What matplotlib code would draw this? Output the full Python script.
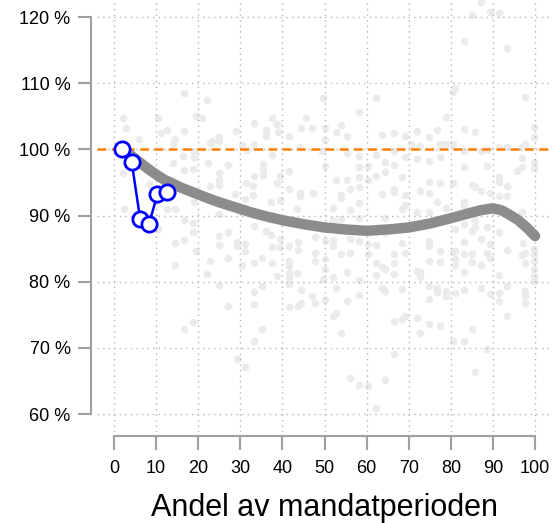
import matplotlib
matplotlib.use("Agg")
import matplotlib.pyplot as plt
from matplotlib import font_manager

# background points (share of period, result in %)
bg_x = [16.6, 22.0, 19.4, 20.8, 2.1, 10.4, 2.8, 12.5, 11.1, 16.7, 5.9, 14.5, 22.7, 13.9, 19.0, 16.5, 18.9, 13.9, 16.7, 18.8, 22.4, 13.7, 8.2, 2.2, 14.5, 12.5, 19.1, 2.4,
        49.7, 37.4, 33.3, 38.6, 44.3, 45.7, 47.0, 36.0, 29.0, 36.1, 41.6, 38.9, 25.0, 25.0, 23.3, 30.5, 33.3, 44.2, 31.5, 37.4, 49.3, 27.0, 35.3, 35.3, 41.6, 24.9, 33.2, 35.3, 39.4, 25.0, 25.0, 31.3, 38.6, 33.1, 22.8, 41.6, 44.2, 44.2, 33.1, 28.7, 47.3, 31.1, 39.4, 37.3, 43.5, 25.0,
        62.3, 58.2, 54.0, 52.7, 50.1, 55.3, 63.7, 66.4, 69.1, 76.8, 72.0, 74.8, 70.5, 72.7, 50.1, 55.3, 62.3, 58.2, 66.5, 69.1, 72.0, 74.8, 77.4, 50.1, 64.4, 66.5, 58.2, 60.2, 52.7, 55.3, 58.2, 60.3, 62.3, 64.4, 68.5, 74.8, 77.4, 56.1, 58.2, 66.4, 66.4, 63.7, 69.1, 72.7, 74.8, 54.0, 54.0, 58.2, 76.8, 51.9, 56.1, 69.1, 68.5, 72.0, 74.8,
        87.2, 85.1, 89.3, 91.4, 83.1, 93.4, 81.0, 80.4, 97.6, 78.9, 83.1, 85.8, 99.8, 99.8, 78.9, 80.4, 97.6, 96.8, 93.4, 91.4, 88.5, 87.2, 83.0, 77.4, 96.8, 96.8, 95.6, 99.8, 99.8, 83.1, 88.6, 91.4, 91.4, 93.4, 80.4, 85.1, 85.8, 87.2, 89.3, 91.4, 93.4, 83.1, 83.1, 78.9, 96.8,
        16.6, 18.7, 18.7, 14.5, 16.6, 19.4, 22.8, 14.5, 22.0, 18.7, 16.6, 10.4,
        33.2, 27.0, 25.0, 36.0, 37.3, 29.1, 25.0, 29.1, 31.1, 31.1, 39.5, 39.5, 37.4, 41.6, 43.6, 43.6, 27.0, 35.2, 37.4, 33.2, 30.5, 41.6, 41.6, 41.6, 41.6, 43.5, 38.8, 47.7, 47.7, 47.7, 49.7, 25.0, 33.2, 35.2, 41.6, 44.3, 47.0, 47.7, 41.6, 43.6, 44.3, 27.0, 33.2, 35.2, 33.2, 29.1, 31.1,
        50.1, 51.9, 51.9, 54.0, 56.1, 56.1, 58.2, 60.3, 60.3, 62.3, 64.4, 66.4, 66.4, 68.5, 69.1, 74.8, 74.8, 74.8, 77.4, 77.4, 50.1, 50.1, 51.9, 55.3, 58.2, 62.3, 63.7, 64.4, 62.3, 66.4, 72.0, 72.7, 72.7, 52.7, 58.1, 55.3, 63.7, 64.4, 68.5, 74.8, 74.8, 76.8, 76.8, 50.1, 51.9, 52.7, 54.0, 66.4, 68.5, 69.1, 72.0, 74.8, 77.4, 72.7, 66.4, 56.1, 58.2, 60.3, 64.4, 62.3, 51.9, 54.0, 58.2, 64.4,
        81.0, 83.1, 85.1, 85.8, 88.6, 91.4, 87.2, 83.1, 89.3, 81.0, 80.4, 83.1, 85.1, 88.6, 89.3, 81.0, 81.0, 85.1, 87.2, 93.4, 96.8, 97.6, 97.6, 97.2, 99.8, 99.8, 99.8, 99.8, 99.8, 99.8, 83.1, 91.4, 78.9, 78.9, 81.0, 83.1, 87.2, 89.3, 91.4, 91.4, 93.4, 97.6, 97.6, 97.6, 93.4, 85.1, 80.4, 83.1, 88.6, 85.8, 85.8]
bg_y = [108.5, 107.5, 105.1, 104.7, 104.7, 104.8, 103.2, 103.0, 102.4, 102.8, 101.6, 101.5, 101.0, 100.8, 99.8, 99.0, 98.9, 97.9, 96.9, 97.1, 98.0, 95.3, 94.7, 96.4, 91.0, 91.0, 92.0, 91.0,
        107.7, 104.7, 104.0, 103.9, 103.2, 104.7, 103.2, 102.9, 102.8, 102.0, 102.0, 102.7, 101.8, 101.2, 101.2, 100.7, 100.8, 100.4, 99.9, 99.2, 99.7, 97.7, 97.8, 96.9, 96.7, 96.4, 96.0, 96.2, 96.0, 95.3, 94.6, 94.9, 94.9, 94.4, 94.5, 94.0, 93.4, 92.9, 93.1, 93.3, 93.4, 92.5, 92.3, 92.0, 91.0, 90.3,
        107.7, 105.7, 103.7, 102.6, 103.2, 102.0, 102.2, 102.4, 102.0, 102.9, 102.8, 101.8, 100.8, 100.5, 101.4, 99.5, 99.2, 99.0, 99.8, 98.9, 98.5, 98.3, 100.8, 97.5, 98.1, 97.7, 97.4, 97.5, 95.4, 95.4, 95.9, 95.4, 96.0, 96.6, 95.8, 95.0, 94.9, 94.0, 94.3, 94.0, 93.5, 93.2, 93.1, 93.7, 93.4, 93.1, 92.6, 91.9, 92.1, 91.1, 90.8, 91.6, 91.0, 90.5, 90.5,
        122.2, 120.3, 120.8, 120.6, 116.4, 115.3, 109.2, 108.7, 107.9, 104.9, 103.1, 102.6, 103.4, 101.9, 100.8, 100.8, 100.8, 100.4, 100.4, 100.3, 99.9, 99.8, 99.8, 98.9, 98.7, 97.4, 96.8, 98.1, 97.2, 97.4, 97.5, 95.9, 95.1, 94.4, 94.9, 94.6, 94.3, 93.7, 93.4, 92.9, 93.0, 92.1, 91.6, 91.1, 90.5,
        89.4, 88.9, 87.5, 85.9, 86.3, 84.6, 83.2, 82.5, 81.1, 73.9, 72.8, 87.9,
        88.4, 87.5, 86.9, 87.7, 87.0, 86.0, 85.6, 85.4, 85.7, 84.7, 86.4, 85.2, 85.2, 85.4, 86.0, 84.8, 83.6, 83.6, 82.9, 82.8, 82.6, 83.1, 82.4, 81.3, 80.6, 81.3, 80.9, 86.7, 84.4, 83.1, 80.4, 79.5, 78.5, 79.3, 79.6, 78.8, 77.8, 76.8, 76.2, 76.3, 76.8, 76.3, 76.7, 72.8, 71.1, 68.4, 67.1,
        86.2, 86.3, 85.4, 84.2, 86.5, 84.4, 86.1, 85.7, 84.2, 85.6, 87.4, 84.2, 82.9, 85.8, 84.4, 86.2, 85.4, 83.2, 84.6, 83.0, 83.4, 81.9, 80.7, 81.5, 80.3, 82.9, 82.3, 81.9, 81.0, 81.1, 81.7, 81.5, 80.7, 79.0, 78.0, 77.1, 79.0, 78.6, 78.9, 79.4, 77.4, 79.1, 78.5, 77.3, 74.8, 75.3, 72.2, 74.0, 74.4, 74.9, 74.5, 73.6, 73.3, 72.2, 69.1, 65.4, 64.4, 64.2, 65.1, 60.9, 89.4, 89.5, 89.7, 89.7,
        88.0, 88.7, 87.7, 88.2, 88.2, 87.5, 86.5, 86.0, 85.7, 84.7, 84.5, 84.2, 84.2, 84.4, 83.6, 83.5, 82.5, 83.0, 82.5, 84.8, 84.0, 84.4, 82.9, 85.9, 84.9, 84.2, 83.1, 81.9, 80.9, 80.1, 81.4, 81.0, 78.6, 77.9, 78.3, 78.8, 79.0, 78.1, 78.3, 77.1, 79.4, 78.6, 77.9, 76.8, 74.8, 72.8, 71.1, 71.1, 69.9, 66.4, 89.4]

# smoothed average
trend_x = [2, 4, 6, 8, 10, 12, 14, 16, 18, 20, 22, 25, 28, 30, 33, 36, 40, 45, 50, 55, 60, 65, 70, 75, 80, 84, 87, 90, 92, 94, 96, 98, 100]
trend_y = [100.0, 99.1, 98.1, 97.1, 96.2, 95.4, 94.8, 94.2, 93.7, 93.2, 92.7, 92.0, 91.4, 91.0, 90.4, 89.9, 89.3, 88.7, 88.2, 87.9, 87.7, 87.9, 88.2, 88.8, 89.6, 90.3, 90.8, 91.1, 90.8, 90.1, 89.3, 88.2, 86.9]

# current period
cur_x = [1.9, 4.2, 6.2, 8.3, 10.3, 12.5]
cur_y = [100.0, 98.1, 89.5, 88.7, 93.2, 93.6]

x_ticks = [0, 10, 20, 30, 40, 50, 60, 70, 80, 90, 100]
y_ticks = [60, 70, 80, 90, 100, 110, 120]

plt.rcParams["font.family"] = ["Liberation Sans", "DejaVu Sans"]

fig = plt.figure(figsize=(5.53, 5.23), dpi=100)
ax = fig.add_axes([97 / 553, 91 / 523, 456 / 553, 432 / 523])
ax.set_xlim(-4.04, 104.25)
ax.set_ylim(57.3, 122.57)

ax.scatter(bg_x, bg_y, s=30, color="#ebebeb", linewidths=0, zorder=1)

for v in x_ticks:
    ax.axvline(v, color="#b4b4b4", lw=1, ls=(0, (1, 3)), zorder=2)
for v in y_ticks:
    ax.axhline(v, color="#b4b4b4", lw=1, ls=(0, (1, 3)), zorder=2)

ax.axhline(100, color="#ff8000", lw=1.8, ls=(0, (3.5, 2.2)), zorder=3)

ax.plot(trend_x, trend_y, color="#8c8c8c", lw=7.5, solid_capstyle="round",
        solid_joinstyle="round", zorder=4)

ax.plot(cur_x, cur_y, color="#0000ff", lw=1.8, marker="o", markersize=11,
        markerfacecolor="white", markeredgecolor="#0000ff", markeredgewidth=2,
        zorder=5)

for side in ["top", "right"]:
    ax.spines[side].set_visible(False)
ax.spines["left"].set_position(("outward", 4.5))
ax.spines["bottom"].set_position(("outward", 3))
ax.spines["left"].set_bounds(60, 120)
ax.spines["bottom"].set_bounds(0, 100)
for side in ["left", "bottom"]:
    ax.spines[side].set_color("#a0a0a0")
    ax.spines[side].set_linewidth(1.5)

ax.set_xticks(x_ticks)
ax.set_xticklabels([str(v) for v in x_ticks])
ax.set_yticks(y_ticks)
ax.set_yticklabels([f"{v} %" for v in y_ticks])
ax.tick_params(axis="both", colors="#a0a0a0", width=1.5, labelsize=13,
               labelcolor="black")
ax.tick_params(axis="y", length=9.5, pad=5)
ax.tick_params(axis="x", length=10, pad=7)

names = {f.name for f in font_manager.fontManager.ttflist}
if "Liberation Sans Narrow" in names:
    lab_font, lab_size = "Liberation Sans Narrow", 25
else:
    lab_font, lab_size = "Liberation Sans", 22
fig.text(324.5 / 553, 7 / 523, "Andel av mandatperioden", ha="center",
         va="baseline", fontsize=lab_size, family=[lab_font, "DejaVu Sans"])

fig.savefig("out.png", dpi=100)
